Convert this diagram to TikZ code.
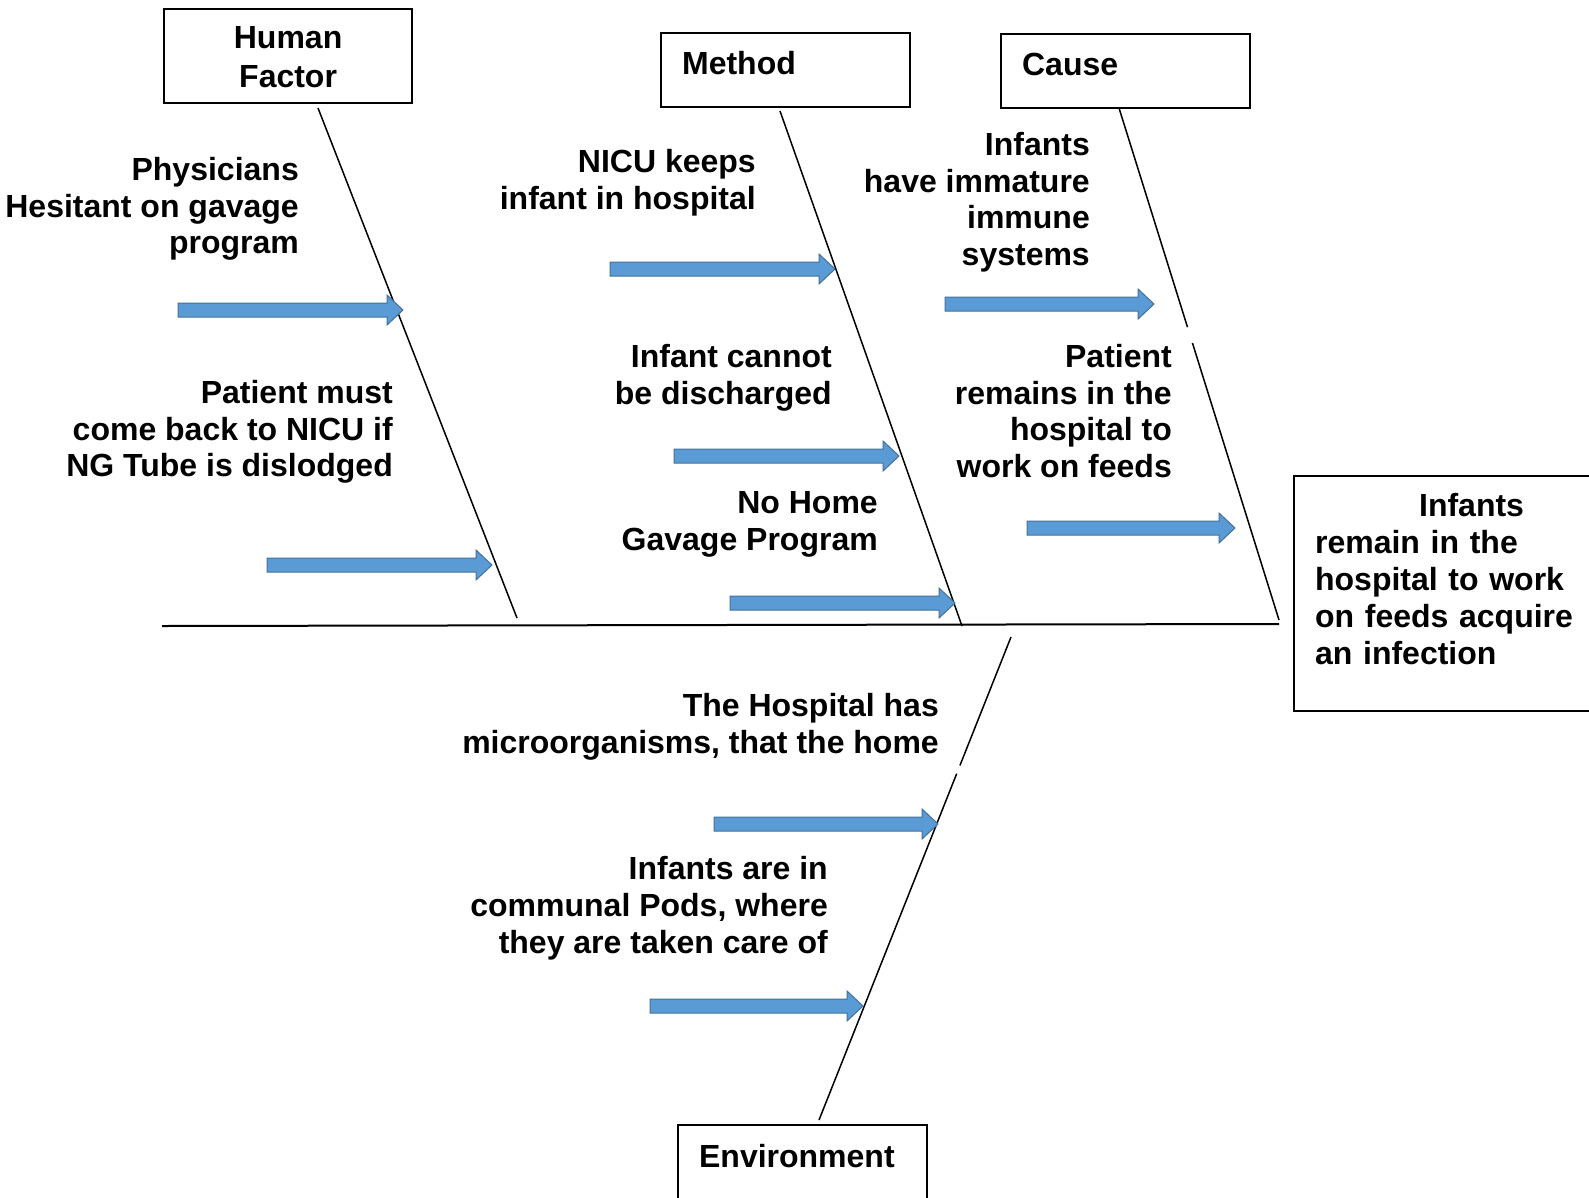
\documentclass[tikz,border=0pt]{standalone}
\usepackage{fontspec}
\setmainfont{Liberation Sans}
\usetikzlibrary{calc}
\definecolor{arrowfill}{HTML}{5B9BD5}
\definecolor{arrowline}{HTML}{41719C}
\tikzset{
  causetext/.style={align=right, anchor=north east, inner sep=0pt,
    font=\fontsize{32}{36.8}\selectfont\bfseries},
  catbox/.style={draw, line width=2.2pt, anchor=north west, inner ysep=0pt,
    inner xsep=21pt, text width=207pt, align=left,
    font=\fontsize{32}{39}\selectfont\bfseries},
  bone/.style={line width=1.5pt},
}
% block arrow: start x, y, tip x
\newcommand\blockarrow[3]{%
  \draw[arrowline, fill=arrowfill, line width=1pt]
    (#1,#2-7) -- (#3-16,#2-7) -- (#3-16,#2-15) -- (#3,#2) -- (#3-16,#2+15)
    -- (#3-16,#2+7) -- (#1,#2+7) -- cycle;}
\begin{document}
\begin{tikzpicture}[x=1pt,y=-1pt]
	\useasboundingbox (0,0) rectangle (1589,1197);
	%Spine
	\coordinate (tail) at (162,626);
	\coordinate (head) at (1279,624);
	\draw[line width=2pt] (tail) -- (head);
	%Effect
	\draw (1293,475) node[catbox, text width=300pt, text height=40pt, text depth=195pt,
	  font=\fontsize{32}{37}\selectfont\bfseries] (effect)
	  {\hspace*{104pt}Infants\\remain in the\\hospital to work\\on feeds acquire\\an infection};

	%cluster 1: human factor
	\draw (163,8) node[catbox, minimum width=248pt, text width=206pt, align=center,
	  text height=39pt, text depth=55pt] (human) {Human\\Factor};
	\coordinate (hf top) at (318,108);
	\coordinate (hf foot) at (517,618);
	\draw[bone] (hf top) -- (hf foot);
	% Text Node
	\draw (299,157) node[causetext] (physicians) {Physicians\\Hesitant on gavage\\program};
	\blockarrow{178}{310}{403}
	% Text Node
	\draw (393,380) node[causetext] (comeback) {Patient must\\come back to NICU if\\NG Tube is dislodged};
	\blockarrow{267}{565}{492}

	%cluster 2: method
	\draw (660,32) node[catbox, text height=41pt, text depth=33pt] (method) {Method};
	\coordinate (me top) at (780,111);
	\coordinate (me foot) at (962,626);
	\draw[bone] (me top) -- (me foot);
	% Text Node
	\draw (756,149) node[causetext] (keeps) {NICU keeps\\infant in hospital};
	\blockarrow{610}{269}{835}
	% Text Node
	\draw (832,344) node[causetext] (discharge) {Infant cannot\\be discharged};
	\blockarrow{674}{456}{899}
	% Text Node
	\draw (878,491) node[causetext] (nohome) {No Home\\Gavage Program};
	\blockarrow{730}{603}{955}

	%cluster 3: cause
	\draw (1000,33) node[catbox, text height=41pt, text depth=33pt] (cause) {Cause};
	\coordinate (ca top) at (1119,108);
	\coordinate (ca foot) at (1279,620);
	\draw[bone] (ca top) -- ($(ca top)!0.428!(ca foot)$);
	\draw[bone] ($(ca top)!0.459!(ca foot)$) -- (ca foot);
	% Text Node
	\draw (1090,132) node[causetext] (immune) {Infants\\have immature\\immune\\systems};
	\blockarrow{945}{304}{1154}
	% Text Node
	\draw (1172,344) node[causetext] (feeds) {Patient\\remains in the\\hospital to\\work on feeds};
	\blockarrow{1027}{528}{1235}

	%cluster 4: environment
	\draw (677,1124) node[catbox, text height=42pt, text depth=60pt] (environment) {Environment};
	\coordinate (en top) at (1011,637);
	\coordinate (en foot) at (819,1120);
	\draw[bone] (en top) -- ($(en top)!0.266!(en foot)$);
	\draw[bone] ($(en top)!0.283!(en foot)$) -- (en foot);
	% Text Node
	\draw (939,693) node[causetext] (microbes) {The Hospital has\\microorganisms, that the home};
	\blockarrow{714}{824}{938}
	% Text Node
	\draw (828,856) node[causetext] (pods) {Infants are in\\communal Pods, where\\they are taken care of};
	\blockarrow{650}{1006}{863}
\end{tikzpicture}
\end{document}
